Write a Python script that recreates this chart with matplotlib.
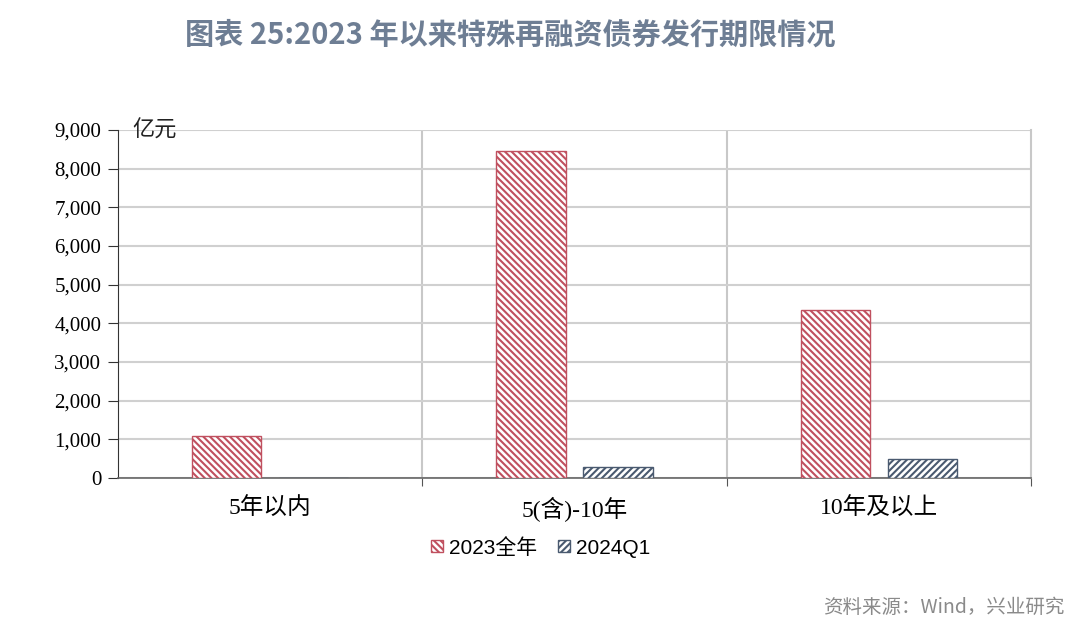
import numpy as np
import matplotlib.pyplot as plt

plt.rcParams['font.family'] = ['Liberation Serif', 'Noto Sans CJK SC']
plt.rcParams['hatch.linewidth'] = 1.5

# data (亿元)
categories = ["5年以内", "5(含)-10年", "10年及以上"]
series_names = ["2023全年", "2024Q1"]
vals_2023 = [1090, 8450, 4350]
vals_2024q1 = [0, 290, 500]
yticks = [0, 1000, 2000, 3000, 4000, 5000, 6000, 7000, 8000, 9000]

red = "#c0505f"
slate = "#4a5a70"

fig = plt.figure(figsize=(10.8, 6.33), dpi=100)
ax = fig.add_axes([0.1093, 0.2449, 0.8453, 0.5497])

x = np.arange(len(categories))
w = 0.227
off = 0.143
ax.bar(x - off, vals_2023, w, facecolor="white", edgecolor=red,
       hatch="\\" * 5, linewidth=1.0, label=series_names[0], zorder=3)
ax.bar(x + off, vals_2024q1, w, facecolor="white", edgecolor=slate,
       hatch="/" * 5, linewidth=1.0, label=series_names[1], zorder=3)

ax.set_xlim(-0.5, 2.5)
ax.set_ylim(0, 9000)
ax.set_yticks(yticks)
ax.set_yticklabels([f"{v:,}" for v in yticks], fontsize=15)
ax.yaxis.grid(True, color="#d0d0d0", linewidth=1.5, zorder=0)

# category boundaries as major ticks, labels on minor ticks
ax.set_xticks([0.5, 1.5, 2.5])
ax.set_xticklabels([])
ax.set_xticks(x, minor=True)
ax.set_xticklabels(categories, minor=True, fontsize=17)
ax.tick_params(axis="x", which="minor", length=0, pad=14)
ax.tick_params(axis="x", which="major", length=6, color="#555555", direction="out")
ax.tick_params(axis="y", length=7, color="#333333", direction="out", pad=5)
for b in [0.5, 1.5]:
    ax.axvline(b, color="#c8c8c8", linewidth=1.5, zorder=1)

ax.spines["top"].set_visible(False)
ax.spines["right"].set_color("#c8c8c8")
ax.spines["right"].set_linewidth(1.5)
ax.spines["left"].set_color("#333333")
ax.spines["bottom"].set_color("#666666")
ax.spines["bottom"].set_linewidth(1.2)

ax.text(0.016, 1.0, "亿元", transform=ax.transAxes, fontsize=16,
        va="center", ha="left", family=["Noto Sans CJK SC"], color="#222222")

ax.legend(loc="center", bbox_to_anchor=(0.463, -0.2), ncol=2, frameon=False,
          prop={"family": ["Liberation Sans", "Noto Sans CJK SC"], "size": 15},
          handlelength=0.55, handleheight=0.55, handletextpad=0.3, columnspacing=1.0)

fig.text(0.472, 0.945, "图表 25:2023 年以来特殊再融资债券发行期限情况",
         ha="center", va="center", fontsize=21, fontweight="bold",
         color="#6e7e94", family=["Noto Sans CJK SC"])
fig.text(0.986, 0.041, "资料来源：Wind，兴业研究", ha="right", va="center",
         fontsize=14, color="#8a8a8a", family=["Noto Sans CJK SC"])

fig.savefig("out.png", dpi=100)
